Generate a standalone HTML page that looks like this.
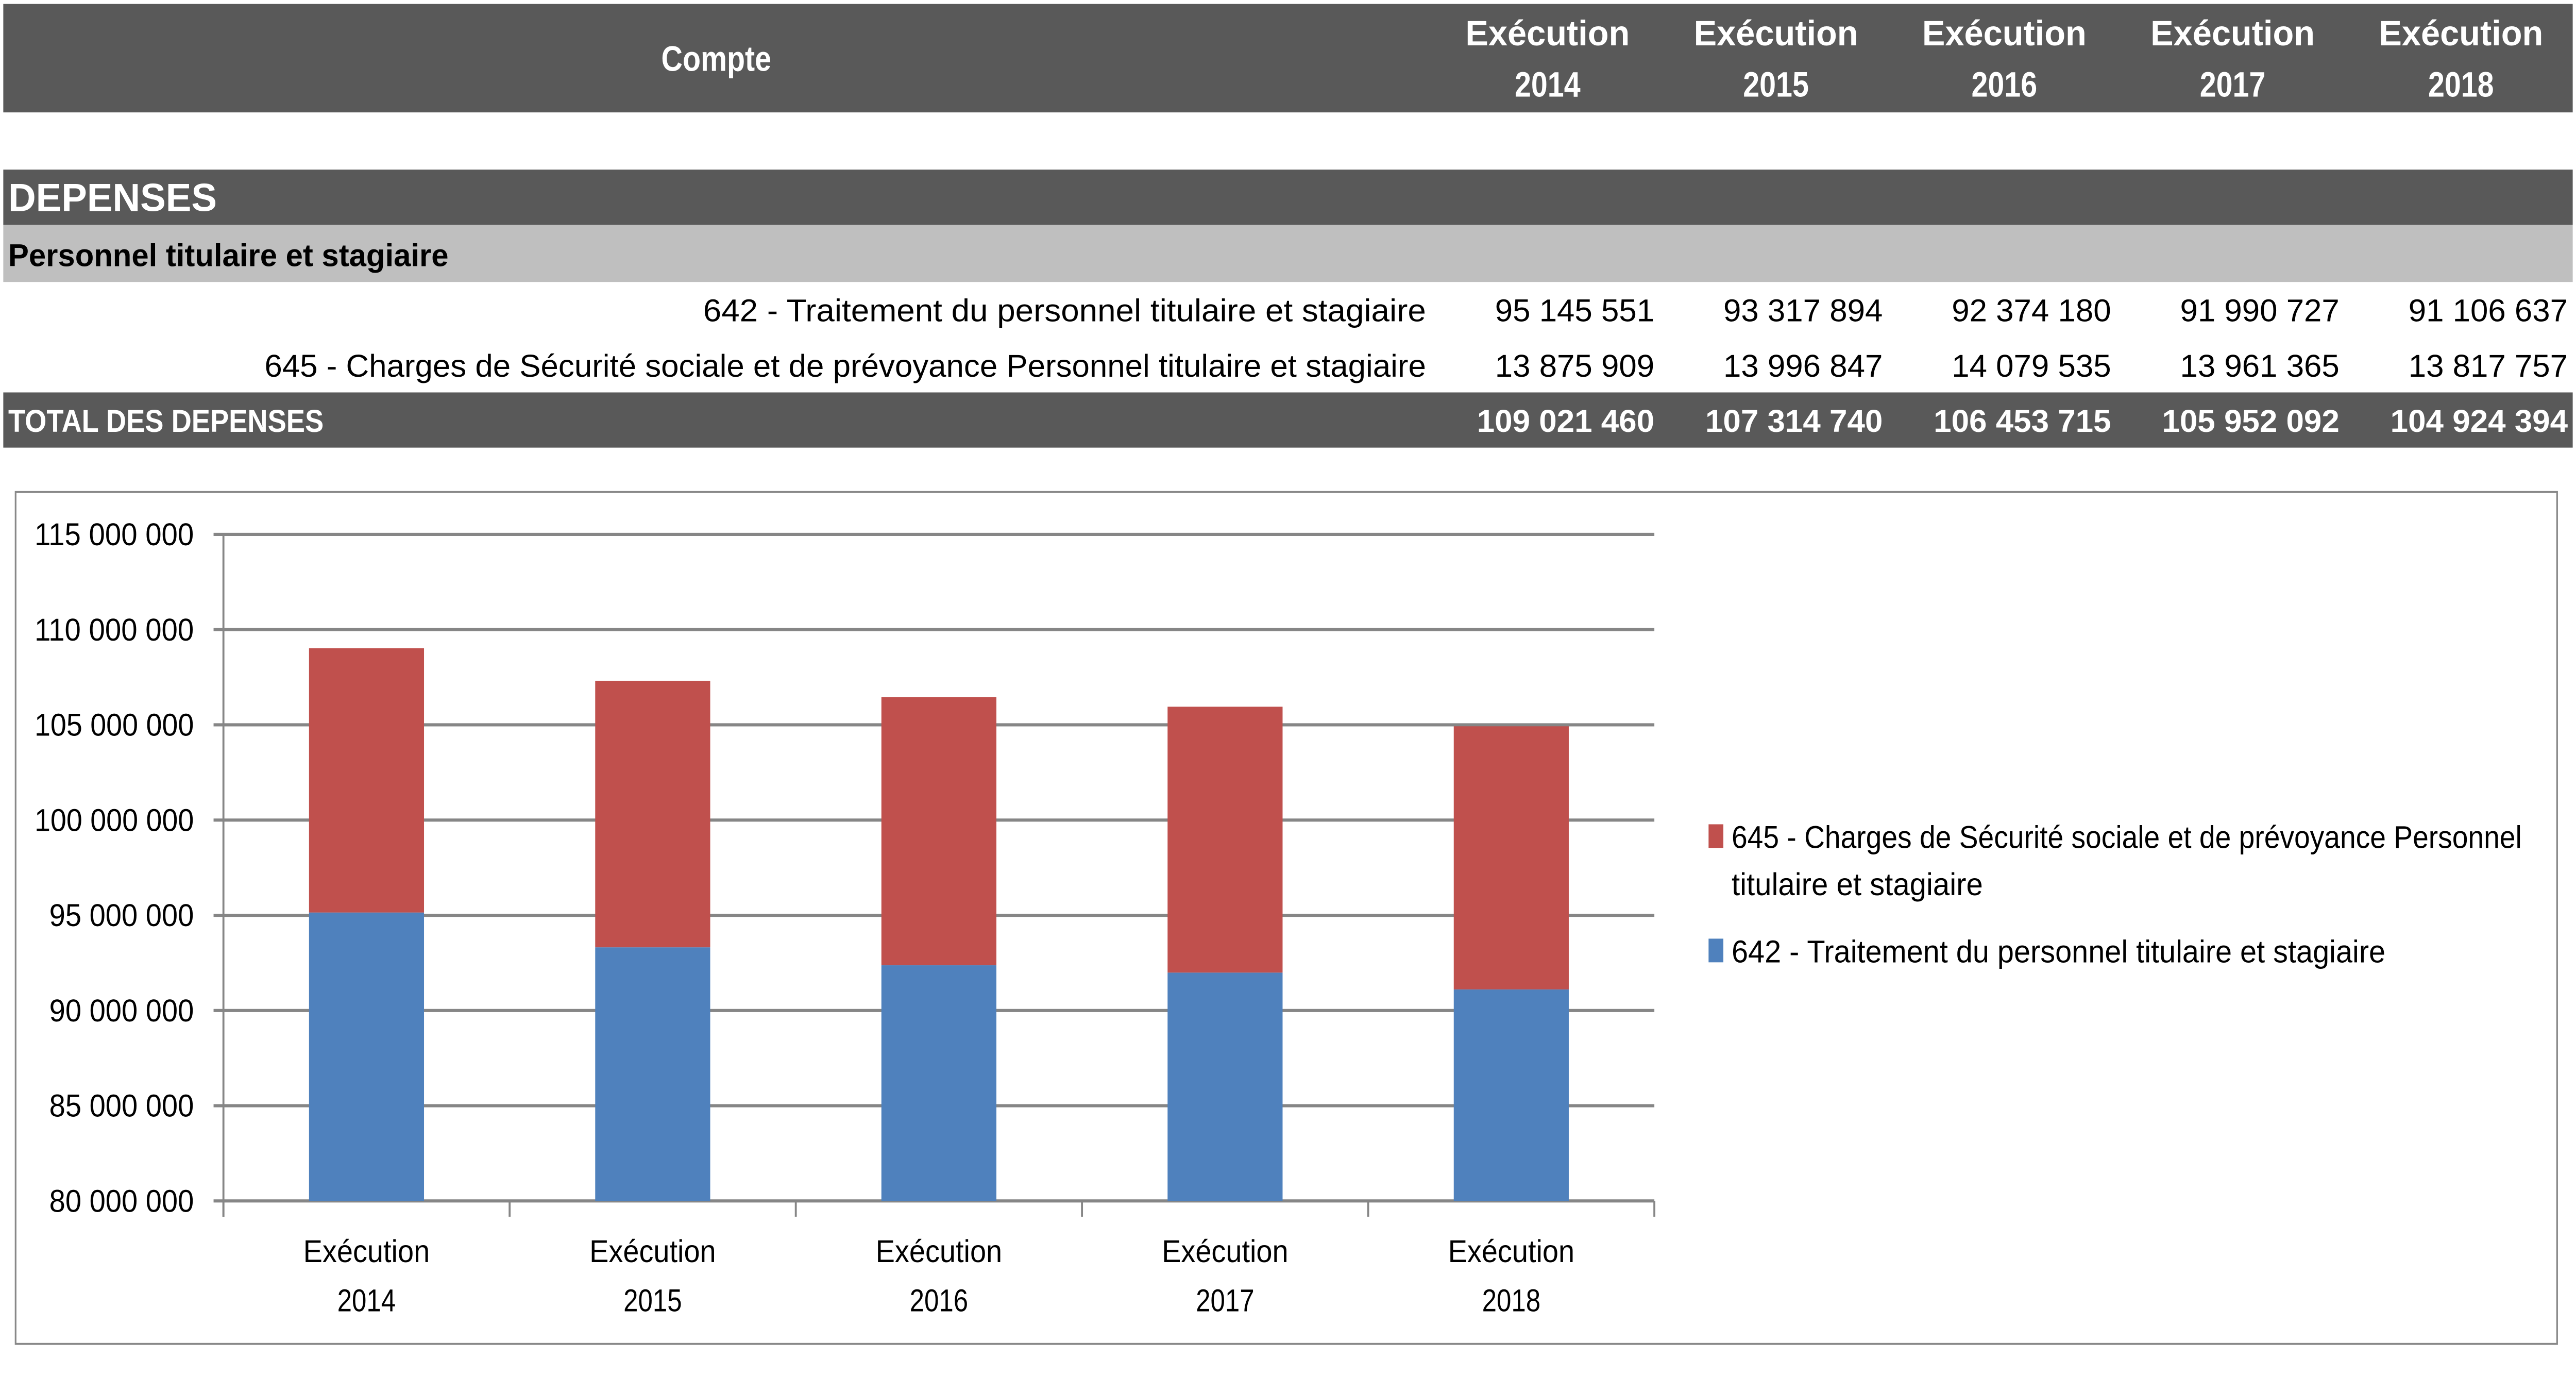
<!DOCTYPE html>
<html><head><meta charset="utf-8"><meta name="viewport" content="width=6000">
<style>
html,body{margin:0;padding:0;background:#fff;width:100%;height:100%;overflow:hidden}
svg{display:block;position:absolute;left:0;top:0;width:100vw;height:100vh}
text{font-family:"Liberation Sans",sans-serif}
</style></head><body>
<svg id="root" xmlns="http://www.w3.org/2000/svg" viewBox="0 0 1568 706.4" preserveAspectRatio="none">
<g>
<rect x="2" y="2" width="1564" height="55" fill="#595959"/>
<text x="436" y="36" font-size="18" font-weight="bold" fill="#fff" text-anchor="middle">Compte</text>
<g id="hdrs"></g>
<rect x="2" y="86" width="1564" height="28" fill="#595959"/>
<text x="5" y="107" font-size="20" font-weight="bold" fill="#fff" textLength="127" lengthAdjust="spacingAndGlyphs">DEPENSES</text>
<rect x="2" y="114" width="1564" height="29" fill="#bfbfbf"/>
<text x="5" y="135" font-size="16" font-weight="bold" fill="#000" textLength="268" lengthAdjust="spacingAndGlyphs">Personnel titulaire et stagiaire</text>
<text x="868" y="163" font-size="16" fill="#000" text-anchor="end" textLength="440" lengthAdjust="spacingAndGlyphs">642 - Traitement du personnel titulaire et stagiaire</text>
<text x="868" y="191" font-size="16" fill="#000" text-anchor="end" textLength="707" lengthAdjust="spacingAndGlyphs">645 - Charges de Sécurité sociale et de prévoyance Personnel titulaire et stagiaire</text>
<rect x="2" y="199" width="1564" height="28" fill="#595959"/>
<text x="5" y="219" font-size="16" font-weight="bold" fill="#fff" textLength="192" lengthAdjust="spacingAndGlyphs">TOTAL DES DEPENSES</text>
<g id="cells"></g>
</g>
<g>
<rect x="9.5" y="249.5" width="1547" height="432" fill="#fff" stroke="#888" stroke-width="1"/>
<g id="plot"></g>
</g>
</svg>
<script>
const years = ["2014","2015","2016","2017","2018"];
const s642 = [95145551, 93317894, 92374180, 91990727, 91106637];
const s645 = [13875909, 13996847, 14079535, 13961365, 13817757];
const totals = [109021460, 107314740, 106453715, 105952092, 104924394];
const yTicks = [80000000, 85000000, 90000000, 95000000, 100000000, 105000000, 110000000, 115000000];
const NS = "http://www.w3.org/2000/svg";
function mk(tag, attrs, parent, txt){const e=document.createElementNS(NS,tag);for(const k in attrs)e.setAttribute(k,attrs[k]);if(txt!==undefined)e.textContent=txt;parent.appendChild(e);return e;}
function fmt(v){return String(v).replace(/\B(?=(\d{3})+(?!\d))/g," ");}
const hdrs=document.getElementById('hdrs'), cells=document.getElementById('cells'), plot=document.getElementById('plot');
const colRight=[1007,1146,1285,1424,1563];
years.forEach((y,i)=>{
  const cx=colRight[i]-65;
  let t=mk('text',{x:cx,y:23,'font-size':18,'font-weight':'bold',fill:'#fff','text-anchor':'middle',textLength:100,lengthAdjust:'spacingAndGlyphs'},hdrs,'Exécution');
  
  
  t=mk('text',{x:cx,y:49,'font-size':18,'font-weight':'bold',fill:'#fff','text-anchor':'middle'},hdrs,y);
  
  
  t=mk('text',{x:colRight[i],y:163,'font-size':16,fill:'#000','text-anchor':'end',textLength:97,lengthAdjust:'spacingAndGlyphs'},cells,fmt(s642[i]));
  
  
  t=mk('text',{x:colRight[i],y:191,'font-size':16,fill:'#000','text-anchor':'end',textLength:97,lengthAdjust:'spacingAndGlyphs'},cells,fmt(s645[i]));
  
  
  t=mk('text',{x:colRight[i],y:219,'font-size':16,'font-weight':'bold',fill:'#fff','text-anchor':'end',textLength:108,lengthAdjust:'spacingAndGlyphs'},cells,fmt(totals[i]));
  
  
});
const X0=136,X1=1007,Ytop=271,Ybot=609,vMin=80000000,vMax=115000000;
const yS=v=>Ybot-(v-vMin)/(vMax-vMin)*(Ybot-Ytop);
const band=(X1-X0)/years.length;
yTicks.forEach(v=>{
  const y=yS(v);
  let l=mk('line',{x1:X0-6,x2:X1,y1:y,y2:y,stroke:'#868686','stroke-width':1.6},plot);
  
  
  let t=mk('text',{x:118,y:y+5.5,'font-size':16,fill:'#000','text-anchor':'end',textLength:fmt(v).length>10?97:88,lengthAdjust:'spacingAndGlyphs'},plot,fmt(v));
  
  
});
let ax=mk('line',{x1:X0,x2:X0,y1:Ytop,y2:Ybot+8,stroke:'#868686','stroke-width':1.2},plot);


for(let i=0;i<=years.length;i++){
  const x=X0+band*i;
  let l=mk('line',{x1:x,x2:x,y1:Ybot,y2:Ybot+8,stroke:'#868686','stroke-width':1.2},plot);
  
  
}
years.forEach((y,i)=>{
  const cx=X0+band*(i+0.5), w=70;
  let b=mk('rect',{x:cx-w/2,y:yS(s642[i]),width:w,height:Ybot-yS(s642[i]),fill:'#4f81bd'},plot);
  
  
  const top=s642[i]+s645[i];
  b=mk('rect',{x:cx-w/2,y:yS(top),width:w,height:yS(s642[i])-yS(top),fill:'#c0504d'},plot);
  
  
  let t=mk('text',{x:cx,y:640,'font-size':16,fill:'#000','text-anchor':'middle',textLength:77,lengthAdjust:'spacingAndGlyphs'},plot,'Exécution');
  
  
  t=mk('text',{x:cx,y:665,'font-size':16,fill:'#000','text-anchor':'middle'},plot,y);
  
  
});
let lg=mk('g',{},plot);


let r=mk('rect',{x:1040,y:418,width:9,height:12,fill:'#c0504d'},lg);


let t=mk('text',{x:1054,y:430,'font-size':16,fill:'#000',textLength:481,lengthAdjust:'spacingAndGlyphs'},lg,'645 - Charges de Sécurité sociale et de prévoyance Personnel');


t=mk('text',{x:1054,y:454,'font-size':16,fill:'#000',textLength:153,lengthAdjust:'spacingAndGlyphs'},lg,'titulaire et stagiaire');


r=mk('rect',{x:1040,y:476,width:9,height:12,fill:'#4f81bd'},lg);


t=mk('text',{x:1054,y:488,'font-size':16,fill:'#000',textLength:398,lengthAdjust:'spacingAndGlyphs'},lg,'642 - Traitement du personnel titulaire et stagiaire');


</script>
</body></html>
